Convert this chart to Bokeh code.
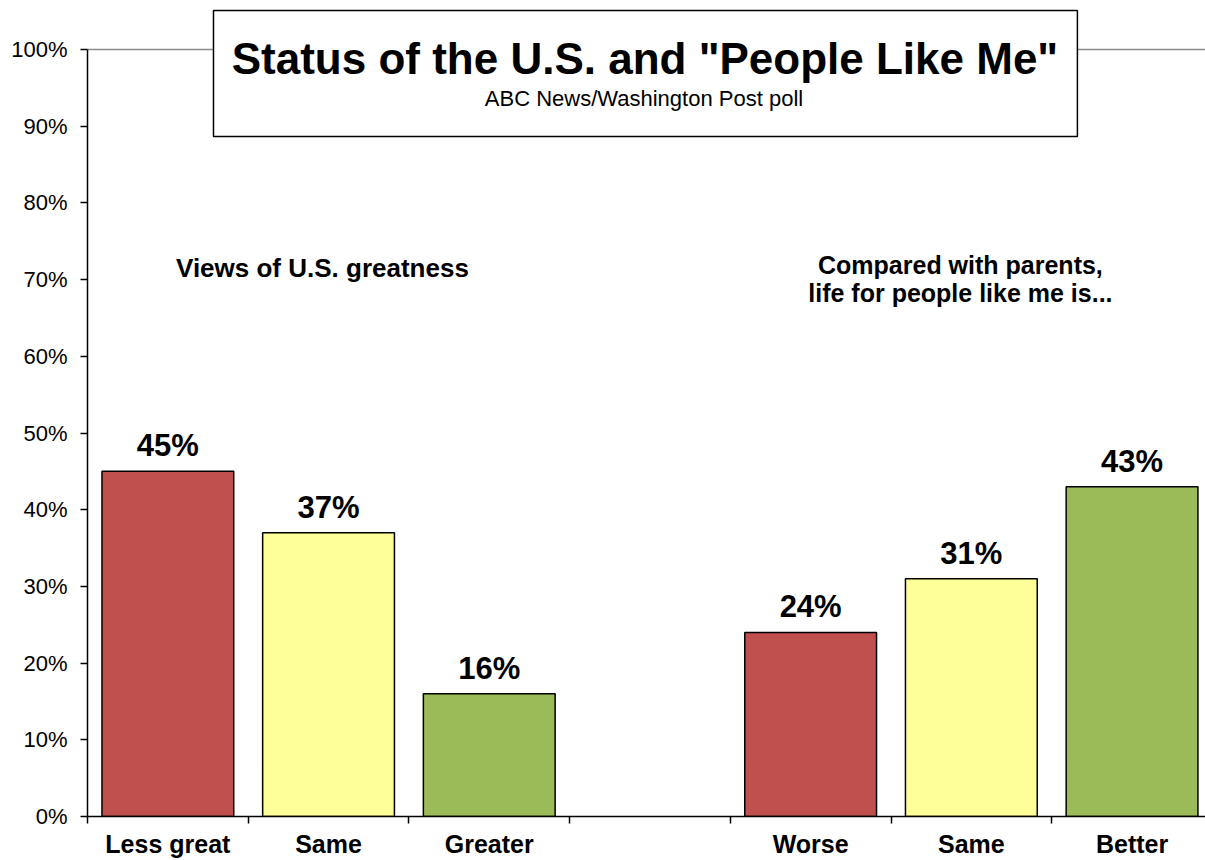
from bokeh.plotting import figure
from bokeh.models import FixedTicker, Range1d, Label, LabelSet, ColumnDataSource
from bokeh.core.properties import value
from bokeh.embed import file_html
from bokeh.resources import INLINE

FONT = "Liberation Sans"

# ---- data ----
greatness_labels = ["Less great", "Same", "Greater"]
greatness_values = [45, 37, 16]
parents_labels = ["Worse", "Same", "Better"]
parents_values = [24, 31, 43]
bar_colors = ["#C0504D", "#FFFF99", "#9BBB59"]
y_ticks = [0, 10, 20, 30, 40, 50, 60, 70, 80, 90, 100]
y_tick_labels = ["0%", "10%", "20%", "30%", "40%", "50%", "60%", "70%", "80%", "90%", "100%"]

title_text = 'Status of the U.S. and "People Like Me"'
subtitle_text = "ABC News/Washington Post poll"
group1_title = "Views of U.S. greatness"
group2_title = ["Compared with parents,", "life for people like me is..."]

# slots: 3 bars, empty gap, 3 bars
slot_labels = greatness_labels + [""] + parents_labels
slot_values = greatness_values + [None] + parents_values
slot_colors = bar_colors + [None] + bar_colors

xs, tops, cols, texts = [], [], [], []
for i, (lab, v, c) in enumerate(zip(slot_labels, slot_values, slot_colors)):
    if v is None:
        continue
    xs.append(i + 0.5)
    tops.append(v)
    cols.append(c)
    texts.append(f"{v}%")

src = ColumnDataSource(dict(x=xs, top=tops, color=cols, text=texts))

PX_SLOT = 160.7   # pixels per category slot
PX_PCT = 7.67     # pixels per percentage point
W, H = 1205, 860
LEFT, BOTTOM = 87, 44
FRAME_W = W - LEFT
FRAME_H = H - BOTTOM

p = figure(width=W, height=H,
           x_range=Range1d(0, FRAME_W / PX_SLOT),
           y_range=Range1d(0, FRAME_H / PX_PCT),
           output_backend="svg", toolbar_location=None,
           min_border_left=LEFT, min_border_right=0,
           min_border_top=0, min_border_bottom=BOTTOM)
p.outline_line_color = None
p.background_fill_color = "white"
p.border_fill_color = "white"

# grid: only the 100% line
p.xgrid.visible = False
p.ygrid.ticker = FixedTicker(ticks=[100])
p.ygrid.grid_line_color = "#8C8C8C"
p.ygrid.grid_line_width = 1.5

# y axis
ya = p.yaxis[0]
ya.ticker = FixedTicker(ticks=y_ticks)
ya.bounds = (0, 100)
ya.major_label_overrides = {t: l for t, l in zip(y_ticks, y_tick_labels)}
ya.major_tick_out = 7
ya.major_tick_in = 0
ya.minor_tick_out = 0
ya.minor_tick_in = 0
ya.axis_line_width = 1.5
ya.major_tick_line_width = 1.5
ya.axis_line_color = "black"
ya.major_tick_line_color = "black"
ya.major_label_standoff = 13
ya.major_label_text_font = FONT
ya.major_label_text_font_size = "22px"
ya.major_label_text_color = "black"

# x axis: labels at slot centres, tick marks at slot boundaries (minor ticks)
xa = p.xaxis[0]
centers = [i + 0.5 for i in range(len(slot_labels))]
bounds_ticks = [i for i in range(len(slot_labels) + 1)]
xa.ticker = FixedTicker(ticks=centers, minor_ticks=bounds_ticks)
xa.major_label_overrides = {c: l for c, l in zip(centers, slot_labels)}
xa.major_tick_out = 0
xa.major_tick_in = 0
xa.minor_tick_out = 7
xa.minor_tick_in = 0
xa.minor_tick_line_color = "black"
xa.minor_tick_line_width = 1.5
xa.axis_line_width = 1.5
xa.axis_line_color = "black"
xa.major_label_standoff = 6
xa.major_label_text_font = FONT
xa.major_label_text_font_style = "bold"
xa.major_label_text_font_size = "25px"
xa.major_label_text_color = "black"

# bars
p.vbar(x="x", top="top", bottom=0, width=0.82, fill_color="color",
       line_color="black", line_width=1.5, source=src)

# value labels
p.add_layout(LabelSet(x="x", y="top", text="text", source=src, y_offset=15,
                      text_align="center", text_baseline="alphabetic",
                      text_font=value(FONT), text_font_style="bold",
                      text_font_size="31px", text_color="black"))

# title box
p.quad(left=0.784, right=6.16, bottom=88.66, top=105.08,
       fill_color="white", line_color="black", line_width=1.5)
p.add_layout(Label(x=3.469, y=98.85, text=title_text, text_align="center",
                   text_baseline="middle", text_font=FONT,
                   text_font_style="bold", text_font_size="44px",
                   text_color="black"))
p.add_layout(Label(x=3.463, y=93.6, text=subtitle_text, text_align="center",
                   text_baseline="middle", text_font=FONT,
                   text_font_size="22px", text_color="black"))

# group titles
p.add_layout(Label(x=1.462, y=71.49, text=group1_title, text_align="center",
                   text_baseline="middle", text_font=FONT,
                   text_font_style="bold", text_font_size="26px",
                   text_color="black"))
for txt, yy in zip(group2_title, [71.84, 68.19]):
    p.add_layout(Label(x=5.432, y=yy, text=txt, text_align="center",
                       text_baseline="middle", text_font=FONT,
                       text_font_style="bold", text_font_size="25px",
                       text_color="black"))

open("out.html", "w").write(file_html(p, INLINE))
